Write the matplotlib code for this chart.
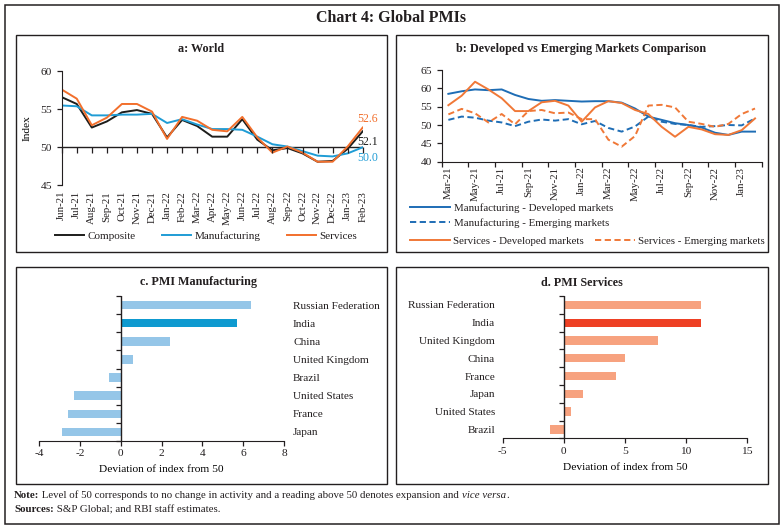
import matplotlib
matplotlib.use("Agg")
import matplotlib.pyplot as plt
import matplotlib.markers as mmarkers
from matplotlib.patches import Rectangle

# ---- data ----
world_months = ["Jun-21", "Jul-21", "Aug-21", "Sep-21", "Oct-21", "Nov-21", "Dec-21",
                "Jan-22", "Feb-22", "Mar-22", "Apr-22", "May-22", "Jun-22", "Jul-22",
                "Aug-22", "Sep-22", "Oct-22", "Nov-22", "Dec-22", "Jan-23", "Feb-23"]
composite = [56.6, 55.7, 52.6, 53.4, 54.6, 54.9, 54.4, 51.3, 53.6, 52.8, 51.4, 51.4,
             53.7, 51.0, 49.6, 49.9, 49.2, 48.1, 48.2, 49.8, 52.1]
manufacturing = [55.5, 55.4, 54.2, 54.2, 54.3, 54.3, 54.4, 53.2, 53.7, 53.0, 52.4, 52.4,
                 52.3, 51.4, 50.4, 50.1, 49.5, 48.9, 48.8, 49.2, 50.0]
services = [57.6, 56.4, 52.9, 53.9, 55.7, 55.7, 54.7, 51.1, 54.0, 53.5, 52.3, 52.1,
            54.0, 51.3, 49.3, 50.1, 49.3, 48.1, 48.1, 50.1, 52.6]

dm_months = ["Mar-21", "Apr-21", "May-21", "Jun-21", "Jul-21", "Aug-21", "Sep-21", "Oct-21",
             "Nov-21", "Dec-21", "Jan-22", "Feb-22", "Mar-22", "Apr-22", "May-22", "Jun-22",
             "Jul-22", "Aug-22", "Sep-22", "Oct-22", "Nov-22", "Dec-22", "Jan-23", "Feb-23"]
mfg_dev = [58.5, 59.2, 59.7, 59.5, 59.7, 58.2, 57.1, 56.6, 56.8, 56.6, 56.4, 56.5,
           56.5, 56.1, 54.5, 52.3, 51.4, 50.5, 50.0, 49.3, 47.9, 47.3, 48.2, 48.2]
mfg_em = [51.4, 52.3, 52.0, 51.2, 50.7, 49.7, 50.9, 51.5, 51.2, 51.6, 50.2, 51.1,
          49.2, 48.2, 49.6, 52.3, 50.9, 50.3, 50.0, 49.5, 49.7, 50.0, 49.9, 51.8]
svc_dev = [55.4, 58.0, 61.8, 59.7, 57.3, 53.8, 53.8, 56.2, 56.6, 55.3, 50.9, 54.8,
           56.5, 56.0, 54.1, 53.0, 49.5, 46.8, 49.5, 48.8, 47.5, 47.3, 48.6, 51.8]
svc_em = [52.9, 54.4, 53.2, 50.7, 53.0, 50.2, 53.8, 54.1, 53.2, 53.4, 51.6, 51.6,
          46.0, 44.1, 47.0, 55.3, 55.5, 54.8, 50.9, 50.3, 49.5, 50.3, 53.0, 54.5]

mfg_countries = ["Russian Federation", "India", "China", "United Kingdom", "Brazil",
                 "United States", "France", "Japan"]
mfg_dev50 = [6.4, 5.7, 2.4, 0.6, -0.6, -2.3, -2.6, -2.9]

svc_countries = ["Russian Federation", "India", "United Kingdom", "China", "France",
                 "Japan", "United States", "Brazil"]
svc_dev50 = [11.2, 11.2, 7.7, 5.0, 4.3, 1.6, 0.6, -1.1]

# ---- style ----
W, H = 783, 529
TXT = "#231F20"
C_BLACK = "#1d1d1b"
C_BLUE_A = "#1F9CD5"
C_ORANGE = "#F26F2C"
C_BLUE_B = "#1E6DB5"
C_ORANGE_B = "#F07837"
C_BAR_BLUE = "#95C6E8"
C_BAR_BLUE_HI = "#0E9AD0"
C_BAR_RED = "#F7A27F"
C_BAR_RED_HI = "#EE4024"

plt.rcParams["font.family"] = ["Liberation Serif", "DejaVu Serif"]
plt.rcParams["font.size"] = 8
plt.rcParams["text.color"] = TXT
plt.rcParams["axes.edgecolor"] = TXT
plt.rcParams["xtick.color"] = TXT
plt.rcParams["ytick.color"] = TXT
plt.rcParams["axes.unicode_minus"] = False


def fbox(left, top, right, bottom):
    return [left / W, 1 - bottom / H, (right - left) / W, (bottom - top) / H]


def fpt(x, y):
    return (x / W, 1 - y / H)


fig = plt.figure(figsize=(W / 100, H / 100), dpi=100)

bg = fig.add_axes([0, 0, 1, 1], zorder=-1)
bg.set_xlim(0, W)
bg.set_ylim(H, 0)
bg.axis("off")

# frames
bg.add_patch(Rectangle((4.5, 4.5), 774, 519.5, fill=False, lw=1.1, ec=TXT))
for (l, t, r, b) in [(15.5, 35, 387, 252), (396, 35, 767.5, 252),
                     (15.5, 267, 387, 484), (396, 267, 767.5, 484)]:
    bg.add_patch(Rectangle((l, t), r - l, b - t, fill=False, lw=1.0, ec=TXT))

bg.text(391, 18, "Chart 4: Global PMIs", ha="center", va="center",
        fontsize=11.5, fontweight="bold")

# ---- panel a ----
ax = fig.add_axes(fbox(61.7, 71.3, 362.7, 185.3))
xa = range(len(world_months))
ax.plot(xa, composite, color=C_BLACK, lw=1.4, label="Composite")
ax.plot(xa, manufacturing, color=C_BLUE_A, lw=1.4, label="Manufacturing")
ax.plot(xa, services, color=C_ORANGE, lw=1.4, label="Services")
ax.set_xlim(0, len(world_months) - 1)
ax.set_ylim(45, 60)
ax.set_yticks([45, 50, 55, 60])
ax.axhline(50, color=TXT, lw=1.0, zorder=1)
ax.plot(xa, [50] * len(world_months), ls="none", marker=mmarkers.TICKDOWN,
        ms=4.5, mew=0.9, color=TXT, clip_on=False)
for s in ["top", "right", "bottom"]:
    ax.spines[s].set_visible(False)
ax.set_xticks(list(xa))
ax.set_xticklabels(world_months, rotation=90, fontsize=7.8)
ax.tick_params(axis="x", length=0, pad=4)
ax.tick_params(axis="y", length=3.5, width=0.9, labelsize=8.2)
ax.set_ylabel("Index", fontsize=8.2, labelpad=6)
ax.patch.set_alpha(0)
last = len(world_months) - 1
ax.annotate(f"{services[-1]:.1f}", (last, services[-1]), xytext=(3.6, 6.2),
            textcoords="offset points", color=C_ORANGE, ha="center", va="center", fontsize=8.5)
ax.annotate(f"{composite[-1]:.1f}", (last, composite[-1]), xytext=(3.6, -7.4),
            textcoords="offset points", color=C_BLACK, ha="center", va="center", fontsize=8.5)
ax.annotate(f"{manufacturing[-1]:.1f}", (last, manufacturing[-1]), xytext=(3.6, -7.5),
            textcoords="offset points", color=C_BLUE_A, ha="center", va="center", fontsize=8.5)
bg.text(201, 49, "a: World", ha="center", va="center", fontsize=8.7, fontweight="bold")
fig.legend(*ax.get_legend_handles_labels(), loc="center left", bbox_to_anchor=fpt(55, 235.7),
           ncol=3, frameon=False, borderpad=0, borderaxespad=0, handlelength=2.6,
           handletextpad=0.3, columnspacing=2.4, fontsize=8)

# ---- panel b ----
bx = fig.add_axes(fbox(441.7, 70, 761.7, 161.7))
xb = range(len(dm_months))
l1, = bx.plot(xb, mfg_dev, color=C_BLUE_B, lw=1.4)
l2, = bx.plot(xb, mfg_em, color=C_BLUE_B, lw=1.4, dashes=(3.2, 1.8))
l3, = bx.plot(xb, svc_dev, color=C_ORANGE_B, lw=1.4)
l4, = bx.plot(xb, svc_em, color=C_ORANGE_B, lw=1.4, dashes=(3.2, 1.8))
bx.set_xlim(-0.5, len(dm_months) - 0.5)
bx.set_ylim(40, 65)
bx.set_yticks(range(40, 66, 5))
bx.set_xticks(list(xb)[::2])
bx.set_xticklabels(dm_months[::2], rotation=90, fontsize=7.8)
bx.set_xticks([i - 0.5 for i in range(0, len(dm_months) + 1, 2)], minor=True)
bx.tick_params(axis="x", which="major", length=0, pad=3.5)
bx.tick_params(axis="x", which="minor", length=3.5, width=0.9)
bx.tick_params(axis="y", length=3.5, width=0.9, labelsize=8.2)
for s in ["top", "right"]:
    bx.spines[s].set_visible(False)
bx.patch.set_alpha(0)
bg.text(581, 49, "b: Developed vs Emerging Markets Comparison", ha="center", va="center",
        fontsize=8.7, fontweight="bold")
fig.legend([l1, l2], ["Manufacturing - Developed markets", "Manufacturing - Emerging markets"],
           loc="center left", bbox_to_anchor=fpt(410, 215.5), frameon=False, borderpad=0,
           borderaxespad=0, handlelength=3.7, handletextpad=0.35, labelspacing=0.45,
           fontsize=7.8)
fig.legend([l3, l4], ["Services - Developed markets", "Services - Emerging markets"],
           loc="center left", bbox_to_anchor=fpt(410, 241), ncol=2, frameon=False, borderpad=0,
           borderaxespad=0, handlelength=3.7, handletextpad=0.3, columnspacing=1.0,
           fontsize=7.8)


def bar_panel(box, countries, values, hi_label, c_lo, c_hi, xlim, xticks, labels_right):
    a = fig.add_axes(fbox(*box))
    n = len(countries)
    ys = list(range(n))
    colors = [c_hi if c == hi_label else c_lo for c in countries]
    a.barh(ys, values, height=0.47, color=colors, zorder=2)
    a.set_ylim(n - 0.5, -0.5)
    a.set_xlim(*xlim)
    a.set_xticks(xticks)
    a.axvline(0, color=TXT, lw=1.0, zorder=3)
    a.plot([0] * (n + 1), [i - 0.5 for i in range(n + 1)], ls="none",
           marker=mmarkers.TICKLEFT, ms=3.5, mew=0.9, color=TXT, clip_on=False, zorder=3)
    for s in ["top", "right", "left"]:
        a.spines[s].set_visible(False)
    a.set_yticks(ys)
    a.set_yticklabels(countries, fontsize=8.1)
    if labels_right:
        a.tick_params(axis="y", length=0, left=False, labelleft=False,
                      right=False, labelright=True, pad=6.5)
    else:
        a.tick_params(axis="y", length=0, pad=5.5)
    a.tick_params(axis="x", length=3.5, width=0.9, labelsize=8.2, pad=2.5)
    a.set_xlabel("Deviation of index from 50", fontsize=8.2, labelpad=5)
    a.patch.set_alpha(0)
    return a


# ---- panel c ----
bar_panel((39.3, 296, 284, 441), mfg_countries, mfg_dev50, "India",
          C_BAR_BLUE, C_BAR_BLUE_HI, (-4, 8), range(-4, 9, 2), True)
bg.text(199, 282, "c. PMI Manufacturing", ha="center", va="center",
        fontsize=8.7, fontweight="bold")

# ---- panel d ----
bar_panel((502.7, 296, 747.3, 438.3), svc_countries, svc_dev50, "India",
          C_BAR_RED, C_BAR_RED_HI, (-5, 15), range(-5, 16, 5), False)
bg.text(582, 282.5, "d. PMI Services", ha="center", va="center",
        fontsize=8.7, fontweight="bold")

# ---- notes ----
t = bg.text(14, 496, "Note:", fontsize=7.8, fontweight="bold", va="center")
t = bg.annotate(" Level of 50 corresponds to no change in activity and a reading above 50 "
                "denotes expansion and ", xy=(1, 0), xycoords=t, va="bottom", fontsize=7.8)
t = bg.annotate("vice versa", xy=(1, 0), xycoords=t, va="bottom", fontsize=7.8, style="italic")
bg.annotate(".", xy=(1, 0), xycoords=t, va="bottom", fontsize=7.8)
t = bg.text(14, 510, "Sources:", fontsize=7.8, fontweight="bold", va="center")
bg.annotate(" S&P Global; and RBI staff estimates.", xy=(1, 0), xycoords=t,
            va="bottom", fontsize=7.8)

fig.savefig("out.png", dpi=100)
